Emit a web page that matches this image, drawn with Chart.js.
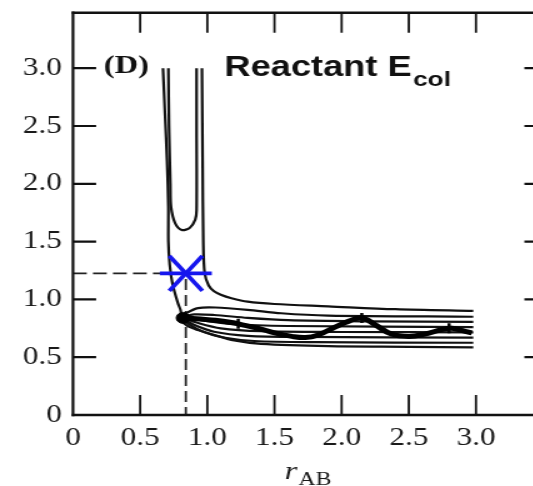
<!DOCTYPE html>
<html>
<head>
<meta charset="utf-8">
<script src="https://cdn.jsdelivr.net/npm/chart.js@4.4.1/dist/chart.umd.min.js"></script>
<style>
  html, body { margin: 0; padding: 0; background: #fff; overflow: hidden; }
  #wrap { width: 533px; height: 486px; overflow: hidden; }
  /* the plot is drawn on a narrower canvas and widened horizontally */
  #pes { transform: scaleX(1.25); transform-origin: 0 0; }
</style>
</head>
<body>
<div id="wrap"><canvas id="pes" width="440" height="486"></canvas></div>
<script>
const xTicks = [0, 0.5, 1.0, 1.5, 2.0, 2.5, 3.0];
const xTickLabels = ['0', '0.5', '1.0', '1.5', '2.0', '2.5', '3.0'];
const yTicks = [0, 0.5, 1.0, 1.5, 2.0, 2.5, 3.0];
const yTickLabels = ['0', '0.5', '1.0', '1.5', '2.0', '2.5', '3.0'];

// U-shaped contour at the top of the entrance valley
const uX = [0.71, 0.715, 0.725, 0.73, 0.76, 0.81, 0.87, 0.91, 0.92, 0.92, 0.92];
const uY = [3.0, 2.5, 2.0, 1.8, 1.66, 1.60, 1.62, 1.69, 1.77, 2.5, 3.0];

// outer contour, inner side: down the left wall, round the corner, under the exit valley
const innerX = [0.67, 0.685, 0.70, 0.71, 0.71, 0.72, 0.74, 0.78, 0.80, 0.805, 0.80, 0.83, 0.87, 0.93, 1.04, 1.2, 1.4, 1.9, 2.5, 2.98];
const innerY = [3.0, 2.6, 2.2, 1.8, 1.5, 1.3, 1.14, 0.97, 0.91, 0.87, 0.83, 0.79, 0.76, 0.735, 0.695, 0.645, 0.615, 0.595, 0.59, 0.585];

// outer contour, outer side: down the right wall and over the exit valley
const outerX = [0.96, 0.965, 0.97, 0.98, 1.01, 1.05, 1.1, 1.18, 1.3, 1.5, 1.9, 2.4, 2.98];
const outerY = [3.0, 2.2, 1.5, 1.23, 1.12, 1.07, 1.04, 1.01, 0.98, 0.96, 0.94, 0.915, 0.90];

// contours fanning out of the corner along the exit valley
const fanAX = [0.815, 0.85, 0.93, 1.06, 1.3, 1.55, 1.9, 2.98];
const fanAY = [0.85, 0.885, 0.925, 0.93, 0.91, 0.88, 0.86, 0.85];
const fanBX = [0.82, 0.9, 1.05, 1.3, 1.6, 2.2, 2.98];
const fanBY = [0.848, 0.87, 0.865, 0.84, 0.82, 0.81, 0.805];
const fanCX = [0.82, 0.95, 1.2, 1.6, 2.98];
const fanCY = [0.845, 0.82, 0.785, 0.77, 0.76];
const fanDX = [0.82, 0.92, 1.1, 1.4, 2.0, 2.98];
const fanDY = [0.84, 0.80, 0.75, 0.725, 0.718, 0.715];
const fanEX = [0.82, 0.9, 1.05, 1.3, 1.7, 2.98];
const fanEY = [0.835, 0.78, 0.72, 0.685, 0.675, 0.67];
const fanFX = [0.82, 0.87, 0.97, 1.12, 1.35, 1.8, 2.98];
const fanFY = [0.83, 0.78, 0.72, 0.67, 0.64, 0.63, 0.625];

// trajectory vibrating down the exit valley
const trajX = [0.83, 0.95, 1.06, 1.18, 1.26, 1.38, 1.5, 1.63, 1.73, 1.82, 1.95, 2.05, 2.15, 2.25, 2.37, 2.5, 2.62, 2.75, 2.82, 2.9, 2.97];
const trajY = [0.84, 0.83, 0.82, 0.80, 0.78, 0.75, 0.71, 0.68, 0.67, 0.69, 0.76, 0.81, 0.84, 0.78, 0.70, 0.68, 0.70, 0.74, 0.75, 0.73, 0.71];
const turnX = [1.23, 2.15, 2.8];
const turnY = [0.79, 0.84, 0.75];

// starting point and transition state
const startX = 0.82, startY = 0.84;
const tsX = 0.84, tsY = 1.225;

const pts = (xs, ys) => xs.map((x, i) => ({ x: x, y: ys[i] }));

function contour(xs, ys) {
  return {
    data: pts(xs, ys),
    showLine: true,
    borderColor: '#111',
    borderWidth: 2.2,
    pointRadius: 0,
    tension: 0.3,
    order: 5
  };
}

const frameAndText = {
  id: 'frameAndText',
  afterDatasetsDraw(chart) {
    const { ctx, chartArea: a, scales: { x, y } } = chart;
    ctx.save();
    ctx.strokeStyle = '#111';
    ctx.lineCap = 'butt';

    // box
    ctx.lineWidth = 2.6;
    ctx.beginPath();
    ctx.moveTo(a.left - 1, a.bottom); ctx.lineTo(a.right, a.bottom);
    ctx.moveTo(a.left - 1, a.top); ctx.lineTo(a.right, a.top);
    ctx.stroke();
    ctx.lineWidth = 2.2;
    ctx.beginPath();
    ctx.moveTo(a.left, a.top - 1.3); ctx.lineTo(a.left, a.bottom + 1.3);
    ctx.moveTo(a.right, a.top - 1.3); ctx.lineTo(a.right, a.bottom + 1.3);
    ctx.stroke();

    // inward ticks
    ctx.lineWidth = 1.8;
    ctx.beginPath();
    xTicks.forEach(v => {
      if (v === 0) return;
      const px = x.getPixelForValue(v);
      ctx.moveTo(px, a.bottom); ctx.lineTo(px, a.bottom - 20);
      ctx.moveTo(px, a.top); ctx.lineTo(px, a.top + 20);
    });
    ctx.stroke();
    ctx.lineWidth = 2.2;
    ctx.beginPath();
    yTicks.forEach(v => {
      if (v === 0) return;
      const py = y.getPixelForValue(v);
      ctx.moveTo(a.left, py); ctx.lineTo(a.left + 18.5, py);
      ctx.moveTo(a.right, py); ctx.lineTo(a.right - 15, py);
    });
    ctx.stroke();

    // panel letter and caption
    ctx.fillStyle = '#111';
    ctx.textBaseline = 'alphabetic';
    ctx.font = 'bold 26px "Liberation Serif"';
    ctx.fillText('(D)', 83, 73);
    ctx.font = 'bold 29px "Liberation Sans"';
    ctx.fillText('Reactant E', 179.5, 75.5);
    const w = ctx.measureText('Reactant E').width;
    ctx.font = 'bold 21px "Liberation Sans"';
    ctx.fillText('col', 179.5 + w + 1, 86);

    // axis title
    const cx = x.getPixelForValue(1.75);
    ctx.fillStyle = '#1a1a1a';
    ctx.font = 'italic 26px "Liberation Serif"';
    const rw = ctx.measureText('r').width;
    ctx.font = '19px "Liberation Serif"';
    const sw = ctx.measureText('AB').width;
    const x0 = cx - (rw + sw + 1) / 2;
    ctx.font = 'italic 26px "Liberation Serif"';
    ctx.fillText('r', x0, 478.5);
    ctx.font = '19px "Liberation Serif"';
    ctx.fillText('AB', x0 + rw + 1, 485);
    ctx.restore();
  }
};

new Chart(document.getElementById('pes'), {
  type: 'scatter',
  data: {
    datasets: [
      {
        // transition state marker
        data: pts([tsX, tsX, tsX], [tsY, tsY, tsY]),
        pointStyle: 'line',
        pointRotation: [0, 53, -53],
        pointRadius: [20.8, 22, 22],
        pointBorderWidth: 3.6,
        borderColor: '#1616ee',
        showLine: false,
        order: 0
      },
      {
        data: pts([startX], [startY]),
        pointStyle: 'circle',
        pointRadius: 5.5,
        backgroundColor: '#000',
        borderColor: '#000',
        showLine: false,
        order: 1
      },
      {
        data: pts(turnX, turnY),
        pointStyle: 'line',
        pointRotation: 90,
        pointRadius: 5,
        pointBorderWidth: 2.5,
        borderColor: '#000',
        showLine: false,
        order: 1
      },
      {
        data: pts(trajX, trajY),
        showLine: true,
        borderColor: '#000',
        borderWidth: 5,
        pointRadius: 0,
        tension: 0.4,
        order: 2
      },
      {
        // guide lines to the transition state
        data: pts([0, tsX, tsX], [tsY, tsY, 0]),
        showLine: true,
        borderColor: '#222',
        borderWidth: 1.8,
        borderDash: [11, 5],
        pointRadius: 0,
        tension: 0,
        order: 6
      },
      contour(uX, uY),
      contour(innerX, innerY),
      contour(outerX, outerY),
      contour(fanAX, fanAY),
      contour(fanBX, fanBY),
      contour(fanCX, fanCY),
      contour(fanDX, fanDY),
      contour(fanEX, fanEY),
      contour(fanFX, fanFY)
    ]
  },
  options: {
    responsive: false,
    animation: false,
    layout: { autoPadding: false, padding: { top: 12.7, right: 5.5, left: 0, bottom: 0 } },
    plugins: { legend: { display: false }, tooltip: { enabled: false } },
    scales: {
      x: {
        type: 'linear',
        min: 0,
        max: 3.5,
        afterBuildTicks: s => { s.ticks = xTicks.map(v => ({ value: v })); },
        afterFit: s => { s.height = 71; s.paddingLeft = 0; s.paddingRight = 0; },
        grid: { display: false, drawTicks: false },
        border: { display: false },
        ticks: {
          padding: 8,
          color: '#1a1a1a',
          font: { family: 'Liberation Serif', size: 25 },
          maxRotation: 0,
          callback: v => xTickLabels[xTicks.indexOf(v)]
        }
      },
      y: {
        type: 'linear',
        min: 0,
        max: 3.48,
        afterBuildTicks: s => { s.ticks = yTicks.map(v => ({ value: v })); },
        afterFit: s => { s.width = 58.4; s.paddingTop = 0; s.paddingBottom = 0; },
        grid: { display: false, drawTicks: false },
        border: { display: false },
        ticks: {
          padding: 9,
          color: '#1a1a1a',
          font: { family: 'Liberation Serif', size: 25 },
          callback: v => yTickLabels[yTicks.indexOf(v)]
        }
      }
    }
  },
  plugins: [frameAndText]
});
</script>
</body>
</html>
